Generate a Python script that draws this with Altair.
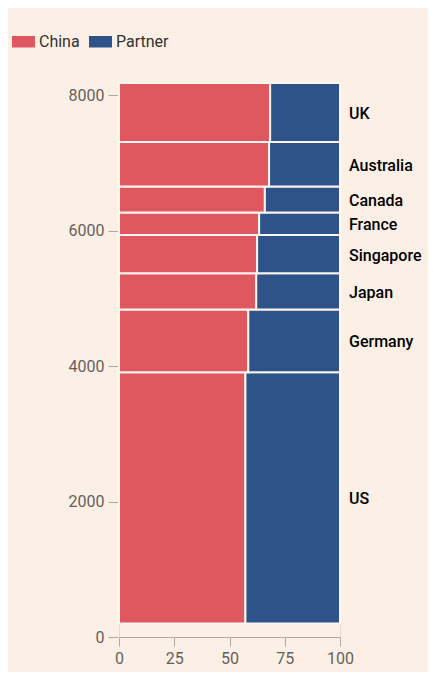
import altair as alt
import pandas as pd

countries = ["US", "Germany", "Japan", "Singapore", "France", "Canada", "Australia", "UK"]
sizes = [3709, 926, 536, 566, 330, 383, 660, 871]
china_share = [57.2, 58.5, 62.1, 62.5, 63.4, 66.0, 67.9, 68.4]
base_start = 200
series = ["China", "Partner"]
colors = ["#e0585f", "#2d5389"]
x_ticks = [0, 25, 50, 75, 100]
y_ticks = [0, 2000, 4000, 6000, 8000]

rows = []
lbl = []
cum = base_start
for c, s, sh in zip(countries, sizes, china_share):
    y0, y1 = cum, cum + s
    rows.append({"country": c, "who": "China", "x0": 0, "x1": sh, "y0": y0, "y1": y1})
    rows.append({"country": c, "who": "Partner", "x0": sh, "x1": 100, "y0": y0, "y1": y1})
    lbl.append({"country": c, "xr": 100, "ym": (y0 + y1) / 2})
    cum = y1
df = pd.DataFrame(rows)
ldf = pd.DataFrame(lbl)

xscale = alt.Scale(domain=[0, 100], nice=False)
yscale = alt.Scale(domain=[0, 8180], nice=False, zero=False)

bars = alt.Chart(df).mark_rect(stroke="#fdf5ef", strokeWidth=2).encode(
    x=alt.X("x0:Q", scale=xscale,
            axis=alt.Axis(values=x_ticks, title=None, grid=False, tickSize=9,
                          labelFlush=False, format="d",
                          labelPadding=4, domainColor="#b3a9a0", tickColor="#b3a9a0")),
    x2="x1:Q",
    y=alt.Y("y0:Q", scale=yscale,
            axis=alt.Axis(values=y_ticks, title=None, grid=False, domain=False,
                          format="d",
                          tickSize=10, offset=1, labelPadding=4, tickColor="#b3a9a0")),
    y2="y1:Q",
    color=alt.Color("who:N", scale=alt.Scale(domain=series, range=colors),
                    legend=alt.Legend(title=None, orient="none", legendX=-107, legendY=-53,
                                      direction="horizontal",
                                      symbolType="M-1,-0.5H1V0.5H-1Z", symbolSize=529,
                                      symbolStrokeWidth=0, labelFontSize=16,
                                      labelColor="#33302e", labelOffset=4,
                                      columnPadding=9, padding=0)),
)

labels = alt.Chart(ldf).mark_text(align="left", baseline="middle", dx=9, dy=1.5,
                                  fontSize=16, fontWeight=500, color="#000000").encode(
    x=alt.X("xr:Q", scale=xscale),
    y=alt.Y("ym:Q", scale=yscale),
    text="country:N",
)

chart = alt.layer(bars, labels).properties(
    width=221, height=554,
    autosize=alt.AutoSizeParams(type="none"),
    padding={"left": 111, "top": 75, "right": 88, "bottom": 35},
    background="#fcf0e6",
).configure_view(stroke=None).configure(font="Roboto").configure_axis(
    labelFontSize=16, labelColor="#66605c", labelFont="Roboto"
).configure_legend(labelFont="Roboto")

chart.save("out.html", embed_options={"renderer": "svg", "actions": False})
